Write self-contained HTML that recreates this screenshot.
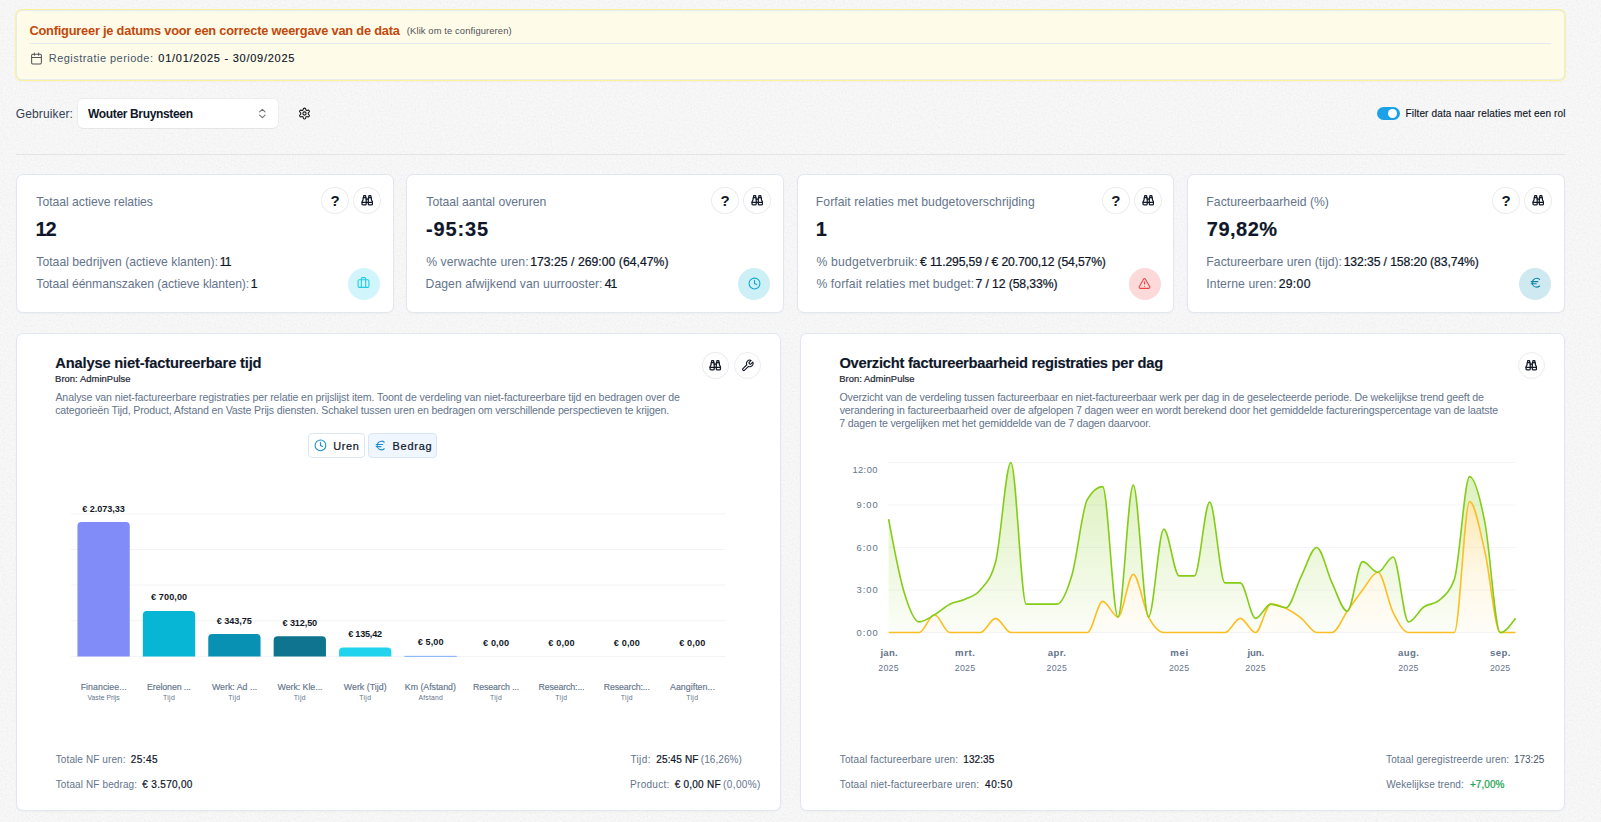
<!DOCTYPE html><html lang="nl"><head><meta charset="utf-8"><title>Dashboard</title><style>
html,body{margin:0;padding:0}
body{width:1601px;height:822px;overflow:hidden;background:#f6f6f6;font-family:'Liberation Sans', sans-serif;position:relative}
.t{position:absolute;white-space:pre;line-height:1;font-family:'Liberation Sans', sans-serif}
.b{position:absolute;box-sizing:border-box}
.card{background:#fff;border:1px solid #e1e7f0;border-radius:7px;box-shadow:0 1px 2px rgba(15,23,42,.03)}
.circ{border-radius:50%;background:#fff;border:1px solid #ececf0}

</style></head><body>
<svg class="b" style="left:0;top:0" width="1601" height="822"><filter id="nz" x="0" y="0" width="100%" height="100%"><feTurbulence type="fractalNoise" baseFrequency="0.55" numOctaves="2" seed="7" result="t"/><feColorMatrix type="matrix" values="0 0 0 0 1  0 0 0 0 1  0 0 0 0 1  2.2 0 0 0 -0.85"/></filter><filter id="nd" x="0" y="0" width="100%" height="100%"><feTurbulence type="fractalNoise" baseFrequency="0.55" numOctaves="2" seed="23" result="t"/><feColorMatrix type="matrix" values="0 0 0 0 0  0 0 0 0 0  0 0 0 0 0  2.2 0 0 0 -0.85"/></filter><rect width="1601" height="822" filter="url(#nz)" opacity=".45"/><rect width="1601" height="822" filter="url(#nd)" opacity=".022"/></svg>
<div class="b " style="left:16px;top:10px;width:1549.00px;height:70.00px;background:#fefce8;border:1px solid #e7ebf2;border-radius:6px;box-shadow:0 0 0 1px #fdf19a, 0 1px 3px rgba(0,0,0,.06)"></div>
<span class="t" style="left:29.42px;top:25px;font-size:12.8px;font-weight:700;color:#c2480c;letter-spacing:-0.206px;">Configureer je datums voor een correcte weergave van de data</span>
<span class="t" style="left:406.86px;top:26px;font-size:9.4px;font-weight:400;color:#52525b;letter-spacing:0.108px;">(Klik om te configureren)</span>
<div class="b " style="left:30px;top:43px;width:1520.50px;height:1.00px;background:#e2e8f0"></div>
<svg class="b" style="left:29.9px;top:52.2px" width="13" height="13" viewBox="0 0 24 24" fill="none" stroke="#52525b" stroke-width="1.9" stroke-linecap="round" stroke-linejoin="round"><path d="M8 2v4M16 2v4M3 10h18"/><rect width="18" height="18" x="3" y="4" rx="2"/></svg>
<span class="t" style="left:48.77px;top:53px;font-size:11px;font-weight:400;color:#475569;letter-spacing:0.465px;">Registratie periode:</span>
<span class="t" style="left:158.33px;top:53px;font-size:11px;font-weight:400;color:#0f172a;letter-spacing:0.734px;-webkit-text-stroke:0.15px #0f172a;">01/01/2025 - 30/09/2025</span>
<span class="t" style="left:15.84px;top:108px;font-size:12px;font-weight:400;color:#334155;letter-spacing:0.112px;">Gebruiker:</span>
<div class="b " style="left:78px;top:99px;width:200.00px;height:29.00px;background:#fff;border-radius:5px;box-shadow:0 0 0 1px rgba(0,0,0,.035), 0 1px 1px rgba(0,0,0,.03)"></div>
<span class="t" style="left:87.98px;top:108px;font-size:12px;font-weight:700;color:#0f172a;letter-spacing:-0.339px;">Wouter Bruynsteen</span>
<svg class="b" style="left:0;top:0" width="300" height="130" viewBox="0 0 300 130" fill="none" stroke="#71717a" stroke-width="1.1" stroke-linecap="round" stroke-linejoin="round"><path d="M259.6,111.9L262.35,109.3L265.1,111.9M259.6,115.2L262.35,117.6L265.1,115.2"/></svg>
<svg class="b" style="left:297.95px;top:106.7px" width="13" height="13" viewBox="0 0 24 24" fill="none" stroke="#18181b" stroke-width="2" stroke-linecap="round" stroke-linejoin="round"><path d="M12.22 2h-.44a2 2 0 0 0-2 2v.18a2 2 0 0 1-1 1.73l-.43.25a2 2 0 0 1-2 0l-.15-.08a2 2 0 0 0-2.73.73l-.22.38a2 2 0 0 0 .73 2.73l.15.1a2 2 0 0 1 1 1.72v.51a2 2 0 0 1-1 1.74l-.15.09a2 2 0 0 0-.73 2.73l.22.38a2 2 0 0 0 2.73.73l.15-.08a2 2 0 0 1 2 0l.43.25a2 2 0 0 1 1 1.73V20a2 2 0 0 0 2 2h.44a2 2 0 0 0 2-2v-.18a2 2 0 0 1 1-1.73l.43-.25a2 2 0 0 1 2 0l.15.08a2 2 0 0 0 2.73-.73l.22-.39a2 2 0 0 0-.73-2.73l-.15-.08a2 2 0 0 1-1-1.74v-.5a2 2 0 0 1 1-1.74l.15-.09a2 2 0 0 0 .73-2.73l-.22-.38a2 2 0 0 0-2.73-.73l-.15.08a2 2 0 0 1-2 0l-.43-.25a2 2 0 0 1-1-1.73V4a2 2 0 0 0-2-2z"/><circle cx="12" cy="12" r="3"/></svg>
<div class="b " style="left:1377px;top:107.1px;width:23.00px;height:12.60px;background:#1ba1e6;border-radius:7px"></div>
<div class="b " style="left:1388px;top:108.7px;width:9.40px;height:9.40px;background:#fff;border-radius:50%"></div>
<span class="t" style="left:1405.57px;top:109px;font-size:10px;font-weight:400;color:#0f172a;letter-spacing:0.133px;-webkit-text-stroke:0.15px #0f172a;">Filter data naar relaties met een rol</span>
<div class="b " style="left:16px;top:153.7px;width:1549.00px;height:1.00px;background:#e4e4e7"></div>
<div class="b card" style="left:16px;top:174px;width:378.00px;height:139.00px;"></div>
<span class="t" style="left:36.35px;top:196px;font-size:12.2px;font-weight:400;color:#64748b;letter-spacing:-0.027px;">Totaal actieve relaties</span>
<span class="t" style="left:35.42px;top:219px;font-size:20px;font-weight:700;color:#0f172a;letter-spacing:-1.000px;-webkit-text-stroke:0.15px #0f172a;">12</span>
<span class="t" style="left:36.35px;top:256px;font-size:12.2px;font-weight:400;color:#64748b;letter-spacing:0.005px;">Totaal bedrijven (actieve klanten):</span>
<span class="t" style="left:219.85px;top:256px;font-size:12.2px;font-weight:400;color:#0f172a;letter-spacing:-1.000px;-webkit-text-stroke:0.22px #0f172a;">11</span>
<span class="t" style="left:36.35px;top:278px;font-size:12.2px;font-weight:400;color:#64748b;letter-spacing:-0.050px;">Totaal éénmanszaken (actieve klanten):</span>
<span class="t" style="left:250.85px;top:278px;font-size:12.2px;font-weight:400;color:#0f172a;letter-spacing:-1.000px;-webkit-text-stroke:0.22px #0f172a;">1</span>
<div class="b circ" style="left:321.2px;top:186.8px;width:27.50px;height:27.40px;"></div>
<span class="t" style="left:330.42px;top:193px;font-size:15px;font-weight:700;color:#111827;letter-spacing:0.000px;">?</span>
<div class="b circ" style="left:353.2px;top:186.8px;width:27.50px;height:27.40px;"></div>
<svg class="b" style="left:360.8px;top:194.15px" width="12.5" height="12.5" viewBox="0 0 24 24" fill="none" stroke="#111827" stroke-width="2.4" stroke-linecap="round" stroke-linejoin="round"><path d="M10 10h4"/><path d="M19 7V4a1 1 0 0 0-1-1h-2a1 1 0 0 0-1 1v3"/><path d="M20 21a2 2 0 0 0 2-2v-3.851c0-1.39-2-2.962-2-4.829V8a1 1 0 0 0-1-1h-4a1 1 0 0 0-1 1v11a2 2 0 0 0 2 2z"/><path d="M22 16H2"/><path d="M4 21a2 2 0 0 1-2-2v-3.851c0-1.39 2-2.962 2-4.829V8a1 1 0 0 1 1-1h4a1 1 0 0 1 1 1v11a2 2 0 0 1-2 2z"/><path d="M9 7V4a1 1 0 0 0-1-1H6a1 1 0 0 0-1 1v3"/></svg>
<div class="b " style="left:347.9px;top:268px;width:32.00px;height:32.00px;background:#d2f5fc;border-radius:50%"></div>
<svg class="b" style="left:356.86px;top:275.9px" width="13" height="13" viewBox="0 0 24 24" fill="none" stroke="#22cbe8" stroke-width="2" stroke-linecap="round" stroke-linejoin="round"><rect width="20" height="14" x="2" y="7" rx="2" ry="2"/><path d="M16 21V5a2 2 0 0 0-2-2h-4a2 2 0 0 0-2 2v16"/></svg>
<div class="b card" style="left:406px;top:174px;width:378.00px;height:139.00px;"></div>
<span class="t" style="left:426.35px;top:196px;font-size:12.2px;font-weight:400;color:#64748b;letter-spacing:-0.032px;">Totaal aantal overuren</span>
<span class="t" style="left:425.99px;top:219px;font-size:20px;font-weight:700;color:#0f172a;letter-spacing:0.889px;-webkit-text-stroke:0.15px #0f172a;">-95:35</span>
<span class="t" style="left:426.16px;top:256px;font-size:12.2px;font-weight:400;color:#64748b;letter-spacing:0.093px;">% verwachte uren:</span>
<span class="t" style="left:530.15px;top:256px;font-size:12.2px;font-weight:400;color:#0f172a;letter-spacing:0.037px;-webkit-text-stroke:0.22px #0f172a;">173:25 / 269:00 (64,47%)</span>
<span class="t" style="left:425.57px;top:278px;font-size:12.2px;font-weight:400;color:#64748b;letter-spacing:0.049px;">Dagen afwijkend van uurrooster:</span>
<span class="t" style="left:604.67px;top:278px;font-size:12.2px;font-weight:400;color:#0f172a;letter-spacing:-1.000px;-webkit-text-stroke:0.22px #0f172a;">41</span>
<div class="b circ" style="left:711.2px;top:186.8px;width:27.50px;height:27.40px;"></div>
<span class="t" style="left:720.42px;top:193px;font-size:15px;font-weight:700;color:#111827;letter-spacing:0.000px;">?</span>
<div class="b circ" style="left:743.2px;top:186.8px;width:27.50px;height:27.40px;"></div>
<svg class="b" style="left:750.8px;top:194.15px" width="12.5" height="12.5" viewBox="0 0 24 24" fill="none" stroke="#111827" stroke-width="2.4" stroke-linecap="round" stroke-linejoin="round"><path d="M10 10h4"/><path d="M19 7V4a1 1 0 0 0-1-1h-2a1 1 0 0 0-1 1v3"/><path d="M20 21a2 2 0 0 0 2-2v-3.851c0-1.39-2-2.962-2-4.829V8a1 1 0 0 0-1-1h-4a1 1 0 0 0-1 1v11a2 2 0 0 0 2 2z"/><path d="M22 16H2"/><path d="M4 21a2 2 0 0 1-2-2v-3.851c0-1.39 2-2.962 2-4.829V8a1 1 0 0 1 1-1h4a1 1 0 0 1 1 1v11a2 2 0 0 1-2 2z"/><path d="M9 7V4a1 1 0 0 0-1-1H6a1 1 0 0 0-1 1v3"/></svg>
<div class="b " style="left:737.9px;top:268px;width:32.00px;height:32.00px;background:#cdeff6;border-radius:50%"></div>
<svg class="b" style="left:747.9px;top:276.65px" width="13" height="13" viewBox="0 0 24 24" fill="none" stroke="#0fa7cf" stroke-width="2" stroke-linecap="round" stroke-linejoin="round"><circle cx="12" cy="12" r="10"/><path d="M12 6v6l4 2"/></svg>
<div class="b card" style="left:797px;top:174px;width:377.00px;height:139.00px;"></div>
<span class="t" style="left:815.87px;top:196px;font-size:12.2px;font-weight:400;color:#64748b;letter-spacing:0.052px;">Forfait relaties met budgetoverschrijding</span>
<span class="t" style="left:815.72px;top:219px;font-size:20px;font-weight:700;color:#0f172a;letter-spacing:-0.900px;-webkit-text-stroke:0.15px #0f172a;">1</span>
<span class="t" style="left:816.46px;top:256px;font-size:12.2px;font-weight:400;color:#64748b;letter-spacing:0.191px;">% budgetverbruik:</span>
<span class="t" style="left:920.03px;top:256px;font-size:12.2px;font-weight:400;color:#0f172a;letter-spacing:-0.151px;-webkit-text-stroke:0.22px #0f172a;">€ 11.295,59 / € 20.700,12 (54,57%)</span>
<span class="t" style="left:816.46px;top:278px;font-size:12.2px;font-weight:400;color:#64748b;letter-spacing:0.085px;">% forfait relaties met budget:</span>
<span class="t" style="left:975.59px;top:278px;font-size:12.2px;font-weight:400;color:#0f172a;letter-spacing:-0.103px;-webkit-text-stroke:0.22px #0f172a;">7 / 12 (58,33%)</span>
<div class="b circ" style="left:1102.0px;top:186.8px;width:27.50px;height:27.40px;"></div>
<span class="t" style="left:1111.22px;top:193px;font-size:15px;font-weight:700;color:#111827;letter-spacing:0.000px;">?</span>
<div class="b circ" style="left:1134.0px;top:186.8px;width:27.50px;height:27.40px;"></div>
<svg class="b" style="left:1141.6px;top:194.15px" width="12.5" height="12.5" viewBox="0 0 24 24" fill="none" stroke="#111827" stroke-width="2.4" stroke-linecap="round" stroke-linejoin="round"><path d="M10 10h4"/><path d="M19 7V4a1 1 0 0 0-1-1h-2a1 1 0 0 0-1 1v3"/><path d="M20 21a2 2 0 0 0 2-2v-3.851c0-1.39-2-2.962-2-4.829V8a1 1 0 0 0-1-1h-4a1 1 0 0 0-1 1v11a2 2 0 0 0 2 2z"/><path d="M22 16H2"/><path d="M4 21a2 2 0 0 1-2-2v-3.851c0-1.39 2-2.962 2-4.829V8a1 1 0 0 1 1-1h4a1 1 0 0 1 1 1v11a2 2 0 0 1-2 2z"/><path d="M9 7V4a1 1 0 0 0-1-1H6a1 1 0 0 0-1 1v3"/></svg>
<div class="b " style="left:1128.7px;top:268px;width:32.00px;height:32.00px;background:#fcdada;border-radius:50%"></div>
<svg class="b" style="left:1137.96px;top:276.8px" width="13" height="13" viewBox="0 0 24 24" fill="none" stroke="#ef4444" stroke-width="2" stroke-linecap="round" stroke-linejoin="round"><path d="m21.73 18-8-14a2 2 0 0 0-3.48 0l-8 14A2 2 0 0 0 4 21h16a2 2 0 0 0 1.73-3"/><path d="M12 9v4M12 17h.01"/></svg>
<div class="b card" style="left:1187px;top:174px;width:378.00px;height:139.00px;"></div>
<span class="t" style="left:1206.37px;top:196px;font-size:12.2px;font-weight:400;color:#64748b;letter-spacing:0.032px;">Factureerbaarheid (%)</span>
<span class="t" style="left:1206.75px;top:219px;font-size:20px;font-weight:700;color:#0f172a;letter-spacing:0.511px;-webkit-text-stroke:0.15px #0f172a;">79,82%</span>
<span class="t" style="left:1206.37px;top:256px;font-size:12.2px;font-weight:400;color:#64748b;letter-spacing:0.031px;">Factureerbare uren (tijd):</span>
<span class="t" style="left:1343.65px;top:256px;font-size:12.2px;font-weight:400;color:#0f172a;letter-spacing:-0.102px;-webkit-text-stroke:0.22px #0f172a;">132:35 / 158:20 (83,74%)</span>
<span class="t" style="left:1206.25px;top:278px;font-size:12.2px;font-weight:400;color:#64748b;letter-spacing:0.107px;">Interne uren:</span>
<span class="t" style="left:1278.65px;top:278px;font-size:12.2px;font-weight:400;color:#0f172a;letter-spacing:0.319px;-webkit-text-stroke:0.22px #0f172a;">29:00</span>
<div class="b circ" style="left:1492.2px;top:186.8px;width:27.50px;height:27.40px;"></div>
<span class="t" style="left:1501.42px;top:193px;font-size:15px;font-weight:700;color:#111827;letter-spacing:0.000px;">?</span>
<div class="b circ" style="left:1524.2px;top:186.8px;width:27.50px;height:27.40px;"></div>
<svg class="b" style="left:1531.8px;top:194.15px" width="12.5" height="12.5" viewBox="0 0 24 24" fill="none" stroke="#111827" stroke-width="2.4" stroke-linecap="round" stroke-linejoin="round"><path d="M10 10h4"/><path d="M19 7V4a1 1 0 0 0-1-1h-2a1 1 0 0 0-1 1v3"/><path d="M20 21a2 2 0 0 0 2-2v-3.851c0-1.39-2-2.962-2-4.829V8a1 1 0 0 0-1-1h-4a1 1 0 0 0-1 1v11a2 2 0 0 0 2 2z"/><path d="M22 16H2"/><path d="M4 21a2 2 0 0 1-2-2v-3.851c0-1.39 2-2.962 2-4.829V8a1 1 0 0 1 1-1h4a1 1 0 0 1 1 1v11a2 2 0 0 1-2 2z"/><path d="M9 7V4a1 1 0 0 0-1-1H6a1 1 0 0 0-1 1v3"/></svg>
<div class="b " style="left:1518.9px;top:268px;width:32.00px;height:32.00px;background:#cfe9f0;border-radius:50%"></div>
<svg class="b" style="left:1528.8px;top:276.4px" width="13.4" height="13.4" viewBox="0 0 24 24" fill="none" stroke="#0e86a8" stroke-width="2" stroke-linecap="round" stroke-linejoin="round"><path d="M4 10h12M4 14h9"/><path d="M19 6a7.7 7.7 0 0 0-5.2-2A7.9 7.9 0 0 0 6 12c0 4.4 3.5 8 7.8 8 2 0 3.8-.8 5.2-2"/></svg>
<div class="b card" style="left:16px;top:333px;width:765.00px;height:478.00px;"></div>
<div class="b card" style="left:800px;top:333px;width:765.00px;height:478.00px;"></div>
<span class="t" style="left:55.26px;top:356px;font-size:14.7px;font-weight:700;color:#0f172a;letter-spacing:-0.170px;-webkit-text-stroke:0.15px #0f172a;">Analyse niet-factureerbare tijd</span>
<span class="t" style="left:55.08px;top:374px;font-size:9.4px;font-weight:400;color:#1f2937;letter-spacing:0.061px;-webkit-text-stroke:0.22px #1f2937;">Bron: AdminPulse</span>
<span class="t" style="left:55.42px;top:392px;font-size:10.6px;font-weight:400;color:#64748b;letter-spacing:-0.113px;">Analyse van niet-factureerbare registraties per relatie en prijslijst item. Toont de verdeling van niet-factureerbare tijd en bedragen over de</span>
<span class="t" style="left:55.18px;top:405px;font-size:10.6px;font-weight:400;color:#64748b;letter-spacing:-0.146px;">categorieën Tijd, Product, Afstand en Vaste Prijs diensten. Schakel tussen uren en bedragen om verschillende perspectieven te krijgen.</span>
<div class="b circ" style="left:702.2px;top:352px;width:26.80px;height:27.00px;"></div>
<svg class="b" style="left:709.05px;top:359.15px" width="12.5" height="12.5" viewBox="0 0 24 24" fill="none" stroke="#111827" stroke-width="2.4" stroke-linecap="round" stroke-linejoin="round"><path d="M10 10h4"/><path d="M19 7V4a1 1 0 0 0-1-1h-2a1 1 0 0 0-1 1v3"/><path d="M20 21a2 2 0 0 0 2-2v-3.851c0-1.39-2-2.962-2-4.829V8a1 1 0 0 0-1-1h-4a1 1 0 0 0-1 1v11a2 2 0 0 0 2 2z"/><path d="M22 16H2"/><path d="M4 21a2 2 0 0 1-2-2v-3.851c0-1.39 2-2.962 2-4.829V8a1 1 0 0 1 1-1h4a1 1 0 0 1 1 1v11a2 2 0 0 1-2 2z"/><path d="M9 7V4a1 1 0 0 0-1-1H6a1 1 0 0 0-1 1v3"/></svg>
<div class="b circ" style="left:734.2px;top:352px;width:27.00px;height:27.00px;"></div>
<svg class="b" style="left:740.6px;top:358.59999999999997px" width="13.2" height="13.2" viewBox="0 0 24 24" fill="none" stroke="#111827" stroke-width="2" stroke-linecap="round" stroke-linejoin="round"><path d="M14.7 6.3a1 1 0 0 0 0 1.4l1.6 1.6a1 1 0 0 0 1.4 0l3.77-3.77a6 6 0 0 1-7.94 7.94l-6.91 6.91a2.12 2.12 0 0 1-3-3l6.91-6.91a6 6 0 0 1 7.94-7.94l-3.76 3.76z"/></svg>
<div class="b " style="left:308.2px;top:433.2px;width:56.40px;height:24.40px;background:#fff;border:1px solid #dde6f3;border-radius:4px"></div>
<svg class="b" style="left:313.85px;top:438.7px" width="12.9" height="12.9" viewBox="0 0 24 24" fill="none" stroke="#1a8fd8" stroke-width="2" stroke-linecap="round" stroke-linejoin="round"><circle cx="12" cy="12" r="10"/><path d="M12 6v6l4 2"/></svg>
<span class="t" style="left:333.17px;top:441px;font-size:10.9px;font-weight:400;color:#0f172a;letter-spacing:0.684px;-webkit-text-stroke:0.22px #0f172a;">Uren</span>
<div class="b " style="left:368.2px;top:433.2px;width:68.60px;height:24.40px;background:#eff6ff;border:1px solid #dbe6f5;border-radius:4px"></div>
<svg class="b" style="left:373.9px;top:438.9px" width="13" height="13" viewBox="0 0 24 24" fill="none" stroke="#1a8fd8" stroke-width="2" stroke-linecap="round" stroke-linejoin="round"><path d="M4 10h12M4 14h9"/><path d="M19 6a7.7 7.7 0 0 0-5.2-2A7.9 7.9 0 0 0 6 12c0 4.4 3.5 8 7.8 8 2 0 3.8-.8 5.2-2"/></svg>
<span class="t" style="left:392.45px;top:441px;font-size:10.9px;font-weight:400;color:#0f172a;letter-spacing:0.824px;-webkit-text-stroke:0.22px #0f172a;">Bedrag</span>
<svg class="b" style="left:0;top:0" width="800" height="822" viewBox="0 0 800 822"><line x1="70.9" x2="725.3" y1="656.40" y2="656.40" stroke="#f1f3f6" stroke-width="1"/><line x1="70.9" x2="725.3" y1="620.75" y2="620.75" stroke="#f1f3f6" stroke-width="1"/><line x1="70.9" x2="725.3" y1="585.10" y2="585.10" stroke="#f1f3f6" stroke-width="1"/><line x1="70.9" x2="725.3" y1="549.45" y2="549.45" stroke="#f1f3f6" stroke-width="1"/><line x1="70.9" x2="725.3" y1="513.80" y2="513.80" stroke="#f1f3f6" stroke-width="1"/><path d="M77.45,656.4V526.01Q77.45,522.01,81.45,522.01H125.75Q129.75,522.01,129.75,526.01V656.4Z" fill="#818cf8"/><path d="M142.85,656.4V615.03Q142.85,611.03,146.85,611.03H191.15Q195.15,611.03,195.15,615.03V656.4Z" fill="#06b6d4"/><path d="M208.25,656.4V638.12Q208.25,634.12,212.25,634.12H256.55Q260.55,634.12,260.55,638.12V656.4Z" fill="#0891b2"/><path d="M273.65,656.4V640.14Q273.65,636.14,277.65,636.14H321.95Q325.95,636.14,325.95,640.14V656.4Z" fill="#0e7490"/><path d="M339.05,656.4V651.62Q339.05,647.62,343.05,647.62H387.35Q391.35,647.62,391.35,651.62V656.4Z" fill="#22d3ee"/><rect x="404.45" y="655.85" width="52.3" height="1.0" fill="#7fb0f9"/><path d="M404.45,656.4V656.40Q404.45,655.50,405.35,655.50H455.85Q456.75,655.50,456.75,656.40V656.4Z" fill="none"/></svg>
<span class="t" style="left:82.22px;top:505px;font-size:9.1px;font-weight:700;color:#111827;letter-spacing:-0.040px;">€ 2.073,33</span>
<span class="t" style="left:80.71px;top:683px;font-size:8.8px;font-weight:400;color:#64748b;letter-spacing:0.043px;-webkit-text-stroke:0.15px #64748b;">Financiee...</span>
<span class="t" style="left:87.51px;top:695px;font-size:6.8px;font-weight:400;color:#64748b;letter-spacing:0.026px;">Vaste Prijs</span>
<span class="t" style="left:151.02px;top:593px;font-size:9.1px;font-weight:700;color:#111827;letter-spacing:0.103px;">€ 700,00</span>
<span class="t" style="left:147.06px;top:683px;font-size:8.8px;font-weight:400;color:#64748b;letter-spacing:-0.099px;-webkit-text-stroke:0.15px #64748b;">Erelonen ...</span>
<span class="t" style="left:162.97px;top:695px;font-size:6.8px;font-weight:400;color:#64748b;letter-spacing:0.352px;">Tijd</span>
<span class="t" style="left:216.72px;top:617px;font-size:9.1px;font-weight:700;color:#111827;letter-spacing:-0.033px;">€ 343,75</span>
<span class="t" style="left:211.98px;top:683px;font-size:8.8px;font-weight:400;color:#64748b;letter-spacing:0.000px;-webkit-text-stroke:0.15px #64748b;">Werk: Ad ...</span>
<span class="t" style="left:228.37px;top:695px;font-size:6.8px;font-weight:400;color:#64748b;letter-spacing:0.352px;">Tijd</span>
<span class="t" style="left:282.62px;top:619px;font-size:9.1px;font-weight:700;color:#111827;letter-spacing:-0.126px;">€ 312,50</span>
<span class="t" style="left:277.53px;top:683px;font-size:8.8px;font-weight:400;color:#64748b;letter-spacing:-0.027px;-webkit-text-stroke:0.15px #64748b;">Werk: Kle...</span>
<span class="t" style="left:293.77px;top:695px;font-size:6.8px;font-weight:400;color:#64748b;letter-spacing:0.352px;">Tijd</span>
<span class="t" style="left:348.17px;top:630px;font-size:9.1px;font-weight:700;color:#111827;letter-spacing:-0.216px;">€ 135,42</span>
<span class="t" style="left:343.83px;top:683px;font-size:8.8px;font-weight:400;color:#64748b;letter-spacing:0.026px;-webkit-text-stroke:0.15px #64748b;">Werk (Tijd)</span>
<span class="t" style="left:359.17px;top:695px;font-size:6.8px;font-weight:400;color:#64748b;letter-spacing:0.352px;">Tijd</span>
<span class="t" style="left:417.77px;top:638px;font-size:9.1px;font-weight:700;color:#111827;letter-spacing:0.084px;">€ 5,00</span>
<span class="t" style="left:404.81px;top:683px;font-size:8.8px;font-weight:400;color:#64748b;letter-spacing:-0.019px;-webkit-text-stroke:0.15px #64748b;">Km (Afstand)</span>
<span class="t" style="left:418.48px;top:695px;font-size:6.8px;font-weight:400;color:#64748b;letter-spacing:0.204px;">Afstand</span>
<span class="t" style="left:482.97px;top:639px;font-size:9.1px;font-weight:700;color:#111827;letter-spacing:0.164px;">€ 0,00</span>
<span class="t" style="left:472.96px;top:683px;font-size:8.8px;font-weight:400;color:#64748b;letter-spacing:-0.112px;-webkit-text-stroke:0.15px #64748b;">Research ...</span>
<span class="t" style="left:489.97px;top:695px;font-size:6.8px;font-weight:400;color:#64748b;letter-spacing:0.352px;">Tijd</span>
<span class="t" style="left:548.37px;top:639px;font-size:9.1px;font-weight:700;color:#111827;letter-spacing:0.164px;">€ 0,00</span>
<span class="t" style="left:538.41px;top:683px;font-size:8.8px;font-weight:400;color:#64748b;letter-spacing:-0.121px;-webkit-text-stroke:0.15px #64748b;">Research:...</span>
<span class="t" style="left:555.37px;top:695px;font-size:6.8px;font-weight:400;color:#64748b;letter-spacing:0.352px;">Tijd</span>
<span class="t" style="left:613.77px;top:639px;font-size:9.1px;font-weight:700;color:#111827;letter-spacing:0.164px;">€ 0,00</span>
<span class="t" style="left:603.81px;top:683px;font-size:8.8px;font-weight:400;color:#64748b;letter-spacing:-0.121px;-webkit-text-stroke:0.15px #64748b;">Research:...</span>
<span class="t" style="left:620.77px;top:695px;font-size:6.8px;font-weight:400;color:#64748b;letter-spacing:0.352px;">Tijd</span>
<span class="t" style="left:679.17px;top:639px;font-size:9.1px;font-weight:700;color:#111827;letter-spacing:0.164px;">€ 0,00</span>
<span class="t" style="left:670.01px;top:683px;font-size:8.8px;font-weight:400;color:#64748b;letter-spacing:0.033px;-webkit-text-stroke:0.15px #64748b;">Aangiften...</span>
<span class="t" style="left:686.17px;top:695px;font-size:6.8px;font-weight:400;color:#64748b;letter-spacing:0.352px;">Tijd</span>
<span class="t" style="left:55.74px;top:755px;font-size:10px;font-weight:400;color:#64748b;letter-spacing:0.102px;">Totale NF uren:</span>
<span class="t" style="left:130.82px;top:755px;font-size:10px;font-weight:400;color:#0f172a;letter-spacing:0.447px;-webkit-text-stroke:0.22px #0f172a;">25:45</span>
<span class="t" style="left:55.74px;top:780px;font-size:10px;font-weight:400;color:#64748b;letter-spacing:0.116px;">Totaal NF bedrag:</span>
<span class="t" style="left:142.37px;top:780px;font-size:10px;font-weight:400;color:#0f172a;letter-spacing:0.306px;-webkit-text-stroke:0.22px #0f172a;">€ 3.570,00</span>
<span class="t" style="left:630.44px;top:755px;font-size:10px;font-weight:400;color:#64748b;letter-spacing:0.363px;">Tijd:</span>
<span class="t" style="left:656.22px;top:755px;font-size:10px;font-weight:400;color:#0f172a;letter-spacing:0.154px;-webkit-text-stroke:0.22px #0f172a;">25:45 NF</span>
<span class="t" style="left:700.71px;top:755px;font-size:10px;font-weight:400;color:#64748b;letter-spacing:0.092px;">(16,26%)</span>
<span class="t" style="left:630.11px;top:780px;font-size:10px;font-weight:400;color:#64748b;letter-spacing:0.280px;">Product:</span>
<span class="t" style="left:674.67px;top:780px;font-size:10px;font-weight:400;color:#0f172a;letter-spacing:0.240px;-webkit-text-stroke:0.22px #0f172a;">€ 0,00 NF</span>
<span class="t" style="left:723.01px;top:780px;font-size:10px;font-weight:400;color:#64748b;letter-spacing:0.404px;">(0,00%)</span>
<span class="t" style="left:839.40px;top:356px;font-size:14.7px;font-weight:700;color:#0f172a;letter-spacing:-0.249px;-webkit-text-stroke:0.15px #0f172a;">Overzicht factureerbaarheid registraties per dag</span>
<span class="t" style="left:839.33px;top:374px;font-size:9.4px;font-weight:400;color:#1f2937;letter-spacing:0.041px;-webkit-text-stroke:0.22px #1f2937;">Bron: AdminPulse</span>
<span class="t" style="left:839.42px;top:392px;font-size:10.6px;font-weight:400;color:#64748b;letter-spacing:-0.138px;">Overzicht van de verdeling tussen factureerbaar en niet-factureerbaar werk per dag in de geselecteerde periode. De wekelijkse trend geeft de</span>
<span class="t" style="left:839.65px;top:405px;font-size:10.6px;font-weight:400;color:#64748b;letter-spacing:-0.145px;">verandering in factureerbaarheid over de afgelopen 7 dagen weer en wordt berekend door het gemiddelde factureringspercentage van de laatste</span>
<span class="t" style="left:839.31px;top:418px;font-size:10.6px;font-weight:400;color:#64748b;letter-spacing:-0.172px;">7 dagen te vergelijken met het gemiddelde van de 7 dagen daarvoor.</span>
<div class="b circ" style="left:1517.5px;top:352px;width:27.00px;height:27.00px;"></div>
<svg class="b" style="left:1524.75px;top:359.15px" width="12.5" height="12.5" viewBox="0 0 24 24" fill="none" stroke="#111827" stroke-width="2.4" stroke-linecap="round" stroke-linejoin="round"><path d="M10 10h4"/><path d="M19 7V4a1 1 0 0 0-1-1h-2a1 1 0 0 0-1 1v3"/><path d="M20 21a2 2 0 0 0 2-2v-3.851c0-1.39-2-2.962-2-4.829V8a1 1 0 0 0-1-1h-4a1 1 0 0 0-1 1v11a2 2 0 0 0 2 2z"/><path d="M22 16H2"/><path d="M4 21a2 2 0 0 1-2-2v-3.851c0-1.39 2-2.962 2-4.829V8a1 1 0 0 1 1-1h4a1 1 0 0 1 1 1v11a2 2 0 0 1-2 2z"/><path d="M9 7V4a1 1 0 0 0-1-1H6a1 1 0 0 0-1 1v3"/></svg>
<svg class="b" style="left:0;top:0" width="1601" height="822" viewBox="0 0 1601 822"><defs><linearGradient id="gg" gradientUnits="userSpaceOnUse" x1="0" y1="462" x2="0" y2="632"><stop offset="0" stop-color="#84cc16" stop-opacity=".3"/><stop offset="1" stop-color="#84cc16" stop-opacity=".03"/></linearGradient><linearGradient id="gy" gradientUnits="userSpaceOnUse" x1="0" y1="500" x2="0" y2="632"><stop offset="0" stop-color="#fbbf24" stop-opacity=".35"/><stop offset=".55" stop-color="#fbbf24" stop-opacity=".12"/><stop offset="1" stop-color="#fbbf24" stop-opacity=".03"/></linearGradient></defs><line x1="888.6" x2="1515.5" y1="632.5" y2="632.5" stroke="#f4f5f9" stroke-width="1"/><line x1="888.6" x2="1515.5" y1="590.0" y2="590.0" stroke="#f4f5f9" stroke-width="1"/><line x1="888.6" x2="1515.5" y1="547.5" y2="547.5" stroke="#f4f5f9" stroke-width="1"/><line x1="888.6" x2="1515.5" y1="505.0" y2="505.0" stroke="#f4f5f9" stroke-width="1"/><line x1="888.6" x2="1515.5" y1="462.5" y2="462.5" stroke="#f4f5f9" stroke-width="1"/><mask id="mk" maskUnits="userSpaceOnUse" x="880" y="450" width="650" height="190"><rect x="880" y="450" width="650" height="190" fill="#fff"/><path d="M888.60,632.50C893.70,632.50,898.79,632.50,903.89,632.50C908.99,632.50,914.08,632.50,919.18,632.50C924.28,632.50,929.37,614.79,934.47,614.79C939.57,614.79,944.66,632.50,949.76,632.50C954.86,632.50,959.95,632.50,965.05,632.50C970.15,632.50,975.24,632.50,980.34,632.50C985.44,632.50,990.53,618.33,995.63,618.33C1000.73,618.33,1005.83,632.50,1010.92,632.50C1016.02,632.50,1021.12,632.50,1026.21,632.50C1031.31,632.50,1036.41,632.50,1041.50,632.50C1046.60,632.50,1051.70,632.50,1056.79,632.50C1061.89,632.50,1066.99,632.50,1072.08,632.50C1077.18,632.50,1082.28,632.50,1087.37,632.50C1092.47,632.50,1097.57,601.33,1102.66,601.33C1107.76,601.33,1112.86,616.92,1117.95,616.92C1123.05,616.92,1128.15,574.42,1133.24,574.42C1138.34,574.42,1143.44,607.24,1148.53,616.92C1153.63,626.60,1158.73,632.50,1163.82,632.50C1168.92,632.50,1174.02,632.50,1179.11,632.50C1184.21,632.50,1189.31,632.50,1194.40,632.50C1199.50,632.50,1204.60,632.50,1209.70,632.50C1214.79,632.50,1219.89,632.50,1224.99,632.50C1230.08,632.50,1235.18,618.33,1240.28,618.33C1245.37,618.33,1250.47,632.50,1255.57,632.50C1260.66,632.50,1265.76,604.17,1270.86,604.17C1275.95,604.17,1281.05,606.06,1286.15,608.42C1291.24,610.78,1296.34,614.32,1301.44,618.33C1306.53,622.35,1311.63,632.50,1316.73,632.50C1321.82,632.50,1326.92,632.50,1332.02,632.50C1337.11,632.50,1342.21,618.33,1347.31,611.25C1352.40,604.17,1357.50,596.49,1362.60,590.00C1367.69,583.51,1372.79,572.29,1377.89,572.29C1382.98,572.29,1388.08,602.63,1393.18,612.67C1398.27,622.70,1403.37,632.50,1408.47,632.50C1413.57,632.50,1418.66,632.50,1423.76,632.50C1428.86,632.50,1433.95,632.50,1439.05,632.50C1444.15,632.50,1449.24,632.50,1454.34,632.50C1459.44,632.50,1464.53,501.46,1469.63,501.46C1474.73,501.46,1479.82,529.91,1484.92,551.75C1490.02,573.59,1495.11,632.50,1500.21,632.50C1505.31,632.50,1510.40,632.50,1515.50,632.50L1515.5,632.5L888.6,632.5Z" fill="#000"/></mask><path d="M888.60,519.17C893.70,546.73,898.79,574.30,903.89,591.42C908.99,608.53,914.08,621.88,919.18,621.88C924.28,621.88,929.37,617.74,934.47,614.79C939.57,611.84,944.66,606.76,949.76,604.17C954.86,601.57,959.95,601.57,965.05,599.21C970.15,596.85,975.24,596.14,980.34,590.00C985.44,583.86,990.53,580.56,995.63,561.67C1000.73,542.78,1005.83,462.50,1010.92,462.50C1016.02,462.50,1021.12,604.17,1026.21,604.17C1031.31,604.17,1036.41,604.17,1041.50,604.17C1046.60,604.17,1051.70,604.17,1056.79,604.17C1061.89,604.17,1066.99,591.89,1072.08,574.42C1077.18,556.94,1082.28,507.83,1087.37,499.33C1092.47,490.83,1097.57,486.58,1102.66,486.58C1107.76,486.58,1112.86,616.92,1117.95,616.92C1123.05,616.92,1128.15,485.17,1133.24,485.17C1138.34,485.17,1143.44,616.92,1148.53,616.92C1153.63,616.92,1158.73,529.08,1163.82,529.08C1168.92,529.08,1174.02,575.83,1179.11,575.83C1184.21,575.83,1189.31,575.83,1194.40,575.83C1199.50,575.83,1204.60,502.17,1209.70,502.17C1214.79,502.17,1219.89,582.92,1224.99,582.92C1230.08,582.92,1235.18,582.92,1240.28,582.92C1245.37,582.92,1250.47,618.33,1255.57,618.33C1260.66,618.33,1265.76,604.17,1270.86,604.17C1275.95,604.17,1281.05,607.71,1286.15,607.71C1291.24,607.71,1296.34,585.87,1301.44,575.83C1306.53,565.80,1311.63,547.50,1316.73,547.50C1321.82,547.50,1326.92,572.29,1332.02,582.92C1337.11,593.54,1342.21,611.25,1347.31,611.25C1352.40,611.25,1357.50,561.67,1362.60,561.67C1367.69,561.67,1372.79,572.29,1377.89,572.29C1382.98,572.29,1388.08,556.99,1393.18,556.99C1398.27,556.99,1403.37,621.88,1408.47,621.88C1413.57,621.88,1418.66,610.59,1423.76,607.00C1428.86,603.41,1433.95,604.78,1439.05,600.34C1444.15,595.90,1449.24,593.35,1454.34,579.38C1459.44,565.40,1464.53,476.67,1469.63,476.67C1474.73,476.67,1479.82,496.74,1484.92,522.71C1490.02,548.68,1495.11,632.50,1500.21,632.50C1505.31,632.50,1510.40,625.42,1515.50,618.33L1515.5,632.5L888.6,632.5Z" fill="url(#gg)" mask="url(#mk)"/><path d="M888.60,632.50C893.70,632.50,898.79,632.50,903.89,632.50C908.99,632.50,914.08,632.50,919.18,632.50C924.28,632.50,929.37,614.79,934.47,614.79C939.57,614.79,944.66,632.50,949.76,632.50C954.86,632.50,959.95,632.50,965.05,632.50C970.15,632.50,975.24,632.50,980.34,632.50C985.44,632.50,990.53,618.33,995.63,618.33C1000.73,618.33,1005.83,632.50,1010.92,632.50C1016.02,632.50,1021.12,632.50,1026.21,632.50C1031.31,632.50,1036.41,632.50,1041.50,632.50C1046.60,632.50,1051.70,632.50,1056.79,632.50C1061.89,632.50,1066.99,632.50,1072.08,632.50C1077.18,632.50,1082.28,632.50,1087.37,632.50C1092.47,632.50,1097.57,601.33,1102.66,601.33C1107.76,601.33,1112.86,616.92,1117.95,616.92C1123.05,616.92,1128.15,574.42,1133.24,574.42C1138.34,574.42,1143.44,607.24,1148.53,616.92C1153.63,626.60,1158.73,632.50,1163.82,632.50C1168.92,632.50,1174.02,632.50,1179.11,632.50C1184.21,632.50,1189.31,632.50,1194.40,632.50C1199.50,632.50,1204.60,632.50,1209.70,632.50C1214.79,632.50,1219.89,632.50,1224.99,632.50C1230.08,632.50,1235.18,618.33,1240.28,618.33C1245.37,618.33,1250.47,632.50,1255.57,632.50C1260.66,632.50,1265.76,604.17,1270.86,604.17C1275.95,604.17,1281.05,606.06,1286.15,608.42C1291.24,610.78,1296.34,614.32,1301.44,618.33C1306.53,622.35,1311.63,632.50,1316.73,632.50C1321.82,632.50,1326.92,632.50,1332.02,632.50C1337.11,632.50,1342.21,618.33,1347.31,611.25C1352.40,604.17,1357.50,596.49,1362.60,590.00C1367.69,583.51,1372.79,572.29,1377.89,572.29C1382.98,572.29,1388.08,602.63,1393.18,612.67C1398.27,622.70,1403.37,632.50,1408.47,632.50C1413.57,632.50,1418.66,632.50,1423.76,632.50C1428.86,632.50,1433.95,632.50,1439.05,632.50C1444.15,632.50,1449.24,632.50,1454.34,632.50C1459.44,632.50,1464.53,501.46,1469.63,501.46C1474.73,501.46,1479.82,529.91,1484.92,551.75C1490.02,573.59,1495.11,632.50,1500.21,632.50C1505.31,632.50,1510.40,632.50,1515.50,632.50L1515.5,632.5L888.6,632.5Z" fill="url(#gy)"/><path d="M888.60,632.50C893.70,632.50,898.79,632.50,903.89,632.50C908.99,632.50,914.08,632.50,919.18,632.50C924.28,632.50,929.37,614.79,934.47,614.79C939.57,614.79,944.66,632.50,949.76,632.50C954.86,632.50,959.95,632.50,965.05,632.50C970.15,632.50,975.24,632.50,980.34,632.50C985.44,632.50,990.53,618.33,995.63,618.33C1000.73,618.33,1005.83,632.50,1010.92,632.50C1016.02,632.50,1021.12,632.50,1026.21,632.50C1031.31,632.50,1036.41,632.50,1041.50,632.50C1046.60,632.50,1051.70,632.50,1056.79,632.50C1061.89,632.50,1066.99,632.50,1072.08,632.50C1077.18,632.50,1082.28,632.50,1087.37,632.50C1092.47,632.50,1097.57,601.33,1102.66,601.33C1107.76,601.33,1112.86,616.92,1117.95,616.92C1123.05,616.92,1128.15,574.42,1133.24,574.42C1138.34,574.42,1143.44,607.24,1148.53,616.92C1153.63,626.60,1158.73,632.50,1163.82,632.50C1168.92,632.50,1174.02,632.50,1179.11,632.50C1184.21,632.50,1189.31,632.50,1194.40,632.50C1199.50,632.50,1204.60,632.50,1209.70,632.50C1214.79,632.50,1219.89,632.50,1224.99,632.50C1230.08,632.50,1235.18,618.33,1240.28,618.33C1245.37,618.33,1250.47,632.50,1255.57,632.50C1260.66,632.50,1265.76,604.17,1270.86,604.17C1275.95,604.17,1281.05,606.06,1286.15,608.42C1291.24,610.78,1296.34,614.32,1301.44,618.33C1306.53,622.35,1311.63,632.50,1316.73,632.50C1321.82,632.50,1326.92,632.50,1332.02,632.50C1337.11,632.50,1342.21,618.33,1347.31,611.25C1352.40,604.17,1357.50,596.49,1362.60,590.00C1367.69,583.51,1372.79,572.29,1377.89,572.29C1382.98,572.29,1388.08,602.63,1393.18,612.67C1398.27,622.70,1403.37,632.50,1408.47,632.50C1413.57,632.50,1418.66,632.50,1423.76,632.50C1428.86,632.50,1433.95,632.50,1439.05,632.50C1444.15,632.50,1449.24,632.50,1454.34,632.50C1459.44,632.50,1464.53,501.46,1469.63,501.46C1474.73,501.46,1479.82,529.91,1484.92,551.75C1490.02,573.59,1495.11,632.50,1500.21,632.50C1505.31,632.50,1510.40,632.50,1515.50,632.50" fill="none" stroke="#fbbf24" stroke-width="1.6" stroke-linejoin="round"/><path d="M888.60,519.17C893.70,546.73,898.79,574.30,903.89,591.42C908.99,608.53,914.08,621.88,919.18,621.88C924.28,621.88,929.37,617.74,934.47,614.79C939.57,611.84,944.66,606.76,949.76,604.17C954.86,601.57,959.95,601.57,965.05,599.21C970.15,596.85,975.24,596.14,980.34,590.00C985.44,583.86,990.53,580.56,995.63,561.67C1000.73,542.78,1005.83,462.50,1010.92,462.50C1016.02,462.50,1021.12,604.17,1026.21,604.17C1031.31,604.17,1036.41,604.17,1041.50,604.17C1046.60,604.17,1051.70,604.17,1056.79,604.17C1061.89,604.17,1066.99,591.89,1072.08,574.42C1077.18,556.94,1082.28,507.83,1087.37,499.33C1092.47,490.83,1097.57,486.58,1102.66,486.58C1107.76,486.58,1112.86,616.92,1117.95,616.92C1123.05,616.92,1128.15,485.17,1133.24,485.17C1138.34,485.17,1143.44,616.92,1148.53,616.92C1153.63,616.92,1158.73,529.08,1163.82,529.08C1168.92,529.08,1174.02,575.83,1179.11,575.83C1184.21,575.83,1189.31,575.83,1194.40,575.83C1199.50,575.83,1204.60,502.17,1209.70,502.17C1214.79,502.17,1219.89,582.92,1224.99,582.92C1230.08,582.92,1235.18,582.92,1240.28,582.92C1245.37,582.92,1250.47,618.33,1255.57,618.33C1260.66,618.33,1265.76,604.17,1270.86,604.17C1275.95,604.17,1281.05,607.71,1286.15,607.71C1291.24,607.71,1296.34,585.87,1301.44,575.83C1306.53,565.80,1311.63,547.50,1316.73,547.50C1321.82,547.50,1326.92,572.29,1332.02,582.92C1337.11,593.54,1342.21,611.25,1347.31,611.25C1352.40,611.25,1357.50,561.67,1362.60,561.67C1367.69,561.67,1372.79,572.29,1377.89,572.29C1382.98,572.29,1388.08,556.99,1393.18,556.99C1398.27,556.99,1403.37,621.88,1408.47,621.88C1413.57,621.88,1418.66,610.59,1423.76,607.00C1428.86,603.41,1433.95,604.78,1439.05,600.34C1444.15,595.90,1449.24,593.35,1454.34,579.38C1459.44,565.40,1464.53,476.67,1469.63,476.67C1474.73,476.67,1479.82,496.74,1484.92,522.71C1490.02,548.68,1495.11,632.50,1500.21,632.50C1505.31,632.50,1510.40,625.42,1515.50,618.33" fill="none" stroke="#84cc16" stroke-width="1.6" stroke-linejoin="round"/></svg>
<span class="t" style="left:852.40px;top:465px;font-size:9.4px;font-weight:400;color:#64748b;letter-spacing:0.403px;">12:00</span>
<span class="t" style="left:856.52px;top:500px;font-size:9.4px;font-weight:400;color:#64748b;letter-spacing:1.014px;">9:00</span>
<span class="t" style="left:856.53px;top:543px;font-size:9.4px;font-weight:400;color:#64748b;letter-spacing:1.012px;">6:00</span>
<span class="t" style="left:856.44px;top:585px;font-size:9.4px;font-weight:400;color:#64748b;letter-spacing:1.042px;">3:00</span>
<span class="t" style="left:856.60px;top:628px;font-size:9.4px;font-weight:400;color:#64748b;letter-spacing:0.989px;">0:00</span>
<span class="t" style="left:880.50px;top:648px;font-size:9.6px;font-weight:700;color:#64748b;letter-spacing:0.209px;">jan.</span>
<span class="t" style="left:878.37px;top:664px;font-size:8.8px;font-weight:400;color:#64748b;letter-spacing:0.218px;">2025</span>
<span class="t" style="left:955.04px;top:648px;font-size:9.6px;font-weight:700;color:#64748b;letter-spacing:0.594px;">mrt.</span>
<span class="t" style="left:954.82px;top:664px;font-size:8.8px;font-weight:400;color:#64748b;letter-spacing:0.218px;">2025</span>
<span class="t" style="left:1047.85px;top:648px;font-size:9.6px;font-weight:700;color:#64748b;letter-spacing:0.303px;">apr.</span>
<span class="t" style="left:1046.56px;top:664px;font-size:8.8px;font-weight:400;color:#64748b;letter-spacing:0.218px;">2025</span>
<span class="t" style="left:1170.15px;top:648px;font-size:9.6px;font-weight:700;color:#64748b;letter-spacing:0.751px;">mei</span>
<span class="t" style="left:1168.88px;top:664px;font-size:8.8px;font-weight:400;color:#64748b;letter-spacing:0.218px;">2025</span>
<span class="t" style="left:1247.52px;top:648px;font-size:9.6px;font-weight:700;color:#64748b;letter-spacing:-0.093px;">jun.</span>
<span class="t" style="left:1245.33px;top:664px;font-size:8.8px;font-weight:400;color:#64748b;letter-spacing:0.218px;">2025</span>
<span class="t" style="left:1398.08px;top:648px;font-size:9.6px;font-weight:700;color:#64748b;letter-spacing:0.410px;">aug.</span>
<span class="t" style="left:1398.23px;top:664px;font-size:8.8px;font-weight:400;color:#64748b;letter-spacing:0.218px;">2025</span>
<span class="t" style="left:1490.10px;top:648px;font-size:9.6px;font-weight:700;color:#64748b;letter-spacing:0.342px;">sep.</span>
<span class="t" style="left:1489.98px;top:664px;font-size:8.8px;font-weight:400;color:#64748b;letter-spacing:0.218px;">2025</span>
<span class="t" style="left:839.74px;top:755px;font-size:10px;font-weight:400;color:#64748b;letter-spacing:0.154px;">Totaal factureerbare uren:</span>
<span class="t" style="left:963.33px;top:755px;font-size:10px;font-weight:400;color:#0f172a;letter-spacing:0.066px;-webkit-text-stroke:0.22px #0f172a;">132:35</span>
<span class="t" style="left:839.74px;top:780px;font-size:10px;font-weight:400;color:#64748b;letter-spacing:0.174px;">Totaal niet-factureerbare uren:</span>
<span class="t" style="left:985.09px;top:780px;font-size:10px;font-weight:400;color:#0f172a;letter-spacing:0.548px;-webkit-text-stroke:0.22px #0f172a;">40:50</span>
<span class="t" style="left:1386.04px;top:755px;font-size:10px;font-weight:400;color:#64748b;letter-spacing:0.137px;">Totaal geregistreerde uren:</span>
<span class="t" style="left:1514.07px;top:755px;font-size:10px;font-weight:400;color:#475569;letter-spacing:-0.043px;">173:25</span>
<span class="t" style="left:1386.17px;top:780px;font-size:10px;font-weight:400;color:#64748b;letter-spacing:0.105px;">Wekelijkse trend:</span>
<span class="t" style="left:1469.97px;top:780px;font-size:10px;font-weight:400;color:#16a34a;letter-spacing:0.047px;-webkit-text-stroke:0.22px #16a34a;">+7,00%</span>
</body></html>
